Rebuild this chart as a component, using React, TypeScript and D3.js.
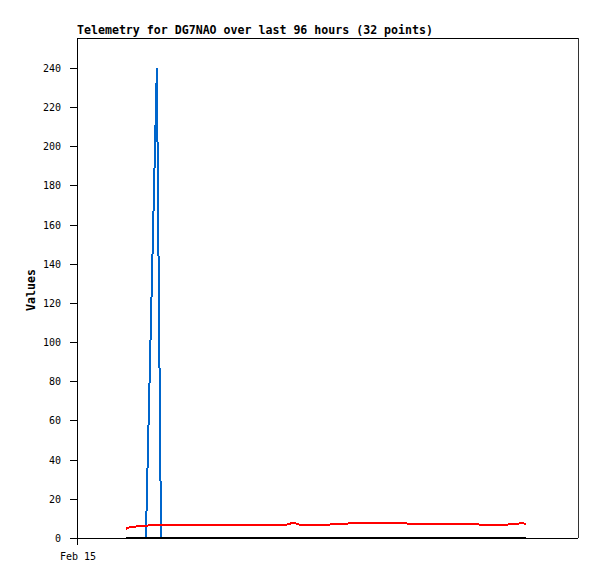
import React from 'react';
import * as d3 from 'd3';

// hours since Feb 15 00:00
const hours = [9.4, 10.3, 11.7, 13.2, 15.3, 16.1, 17.8, 19.7, 22.6, 26.4, 30.3, 34.1, 37.9, 40.2, 41.4, 42.7,
  45.6, 47.9, 51.4, 54.2, 57.1, 60.6, 63.8, 67.6, 71.5, 75.5, 79.1, 82.0, 83.5, 84.5, 85.5, 86.0];
const redValues = [4.7, 5.8, 5.9, 6.3, 6.8, 6.8, 6.8, 6.8, 6.8, 6.8, 6.8, 6.8, 6.8, 6.8, 7.8, 6.8,
  6.8, 6.8, 7.3, 7.8, 7.8, 7.8, 7.3, 7.1, 7.1, 7.1, 6.6, 6.6, 7.3, 7.3, 7.8, 6.6];
const blueValues = [0, 0, 0, 0, 240, 0, 0, 0, 0, 0, 0, 0, 0, 0, 0, 0,
  0, 0, 0, 0, 0, 0, 0, 0, 0, 0, 0, 0, 0, 0, 0, 0];
const blackValues = hours.map(() => 0);
const yTicks = [0, 20, 40, 60, 80, 100, 120, 140, 160, 180, 200, 220, 240];
const xTicks = [{ h: 0, label: 'Feb 15' }];

const width = 597;
const height = 579;
const left = 77, right = 578, top = 38, bottom = 538;

const x = d3.scaleLinear().domain([0, 96]).range([left, right]);
const y = d3.scaleLinear().domain([0, 255.3]).range([bottom, top]);

const line = d3.line<number>()
  .x((d, i) => x(hours[i]))
  .y(d => y(d));

const mono = '"DejaVu Sans Mono", monospace';

const App = () => {
  return (
    <svg width={width} height={height} style={{ position: 'absolute', left: 0, top: 0 }}>
      <rect x={0} y={0} width={width} height={height} fill="white" />
      <text x={left} y={34} fontFamily={mono} fontSize={11.6} fontWeight="bold">
        Telemetry for DG7NAO over last 96 hours (32 points)
      </text>
      <g shapeRendering="crispEdges" stroke="black" strokeWidth={1}>
        <line x1={left} x2={right} y1={top + 0.5} y2={top + 0.5} />
        <line x1={right + 0.5} x2={right + 0.5} y1={top} y2={bottom} stroke="#333" />
        <line x1={left + 0.5} x2={left + 0.5} y1={top} y2={bottom + 7} />
        <line x1={left - 7} x2={right} y1={bottom + 0.5} y2={bottom + 0.5} />
        {yTicks.map(t => (
          <line key={t} x1={left - 7} x2={left} y1={Math.round(y(t)) + 0.5} y2={Math.round(y(t)) + 0.5} />
        ))}
        {xTicks.map(t => (
          <line key={t.label} x1={x(t.h) + 0.5} x2={x(t.h) + 0.5} y1={bottom} y2={bottom + 7} />
        ))}
      </g>
      {yTicks.map(t => (
        <text key={t} x={61} y={Math.round(y(t)) + 4} textAnchor="end" fontFamily={mono} fontSize={10}>
          {t}
        </text>
      ))}
      {xTicks.map(t => (
        <text key={t.label} x={x(t.h) - 17} y={560} fontFamily={mono} fontSize={10}>
          {t.label}
        </text>
      ))}
      <text transform="translate(35,290) rotate(-90)" textAnchor="middle" fontFamily={mono}
        fontSize={11.6} fontWeight="bold">Values</text>
      <g fill="none" strokeWidth={2} shapeRendering="crispEdges">
        <path d={line(blueValues) || ''} stroke="#0066cc" />
        <path d={line(redValues) || ''} stroke="red" />
        <path d={line(blackValues) || ''} stroke="black" />
      </g>
    </svg>
  );
};

export default App;
